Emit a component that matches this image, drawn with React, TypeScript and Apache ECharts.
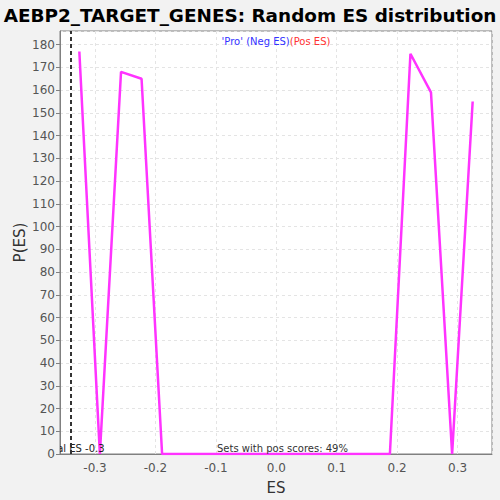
import React, { useEffect, useRef } from "react";
import * as echarts from "echarts";

const titleText = "AEBP2_TARGET_GENES: Random ES distribution";
const esBins = [
  -0.326, -0.292, -0.257, -0.223, -0.189, -0.155, -0.12, -0.086, -0.052, -0.018,
  0.017, 0.051, 0.085, 0.119, 0.154, 0.188, 0.222, 0.256, 0.291, 0.325,
];
const pValues = [177, 0, 168, 165, 0, 0, 0, 0, 0, 0, 0, 0, 0, 0, 0, 0, 176, 159, 0, 155];
const actualES = -0.342;
const actualLabel = "Actual ES -0.3";
const posScoresLabel = "Sets with pos scores: 49%";
const legendNeg = "'Pro' (Neg ES)";
const legendPos = "(Pos ES)";

const FONT = "DejaVu Sans";

export default function App() {
  const ref = useRef<HTMLDivElement>(null);
  useEffect(() => {
    document.body.style.margin = "0";
    const chart = echarts.init(ref.current!, null, { renderer: "svg" });
    const lineData = esBins.map((x, i) => [x, pValues[i]]);
    chart.setOption({
      animation: false,
      backgroundColor: "#f2f2f2",
      title: {
        text: titleText,
        left: "center",
        top: 1,
        textStyle: { fontFamily: FONT, fontWeight: "bold", fontSize: 18.4, color: "#000" },
      },
      grid: {
        left: 60,
        right: 8,
        top: 31,
        bottom: 46,
        show: true,
        containLabel: false,
        outerBoundsMode: "none",
        backgroundColor: "#ffffff",
        borderColor: "#808080",
        borderWidth: 1,
      },
      xAxis: {
        type: "value",
        min: -0.358,
        max: 0.357,
        splitNumber: 5,
        name: "ES",
        nameLocation: "middle",
        nameGap: 26,
        nameMoveOverlap: false,
        nameTextStyle: { fontFamily: FONT, fontSize: 15, color: "#333" },
        axisLine: { onZero: false, lineStyle: { color: "#808080" } },
        axisTick: { show: false },
        axisLabel: {
          fontFamily: FONT,
          fontSize: 12,
          color: "#555",
          margin: 8,
          showMinLabel: false,
          showMaxLabel: false,
          formatter: (v: number) => v.toFixed(1),
        },
        splitLine: { show: true, lineStyle: { color: "#e4e4e4", type: [3, 3] } },
      },
      yAxis: {
        type: "value",
        min: 0,
        max: 186,
        interval: 10,
        name: "P(ES)",
        nameLocation: "middle",
        nameGap: 33,
        nameMoveOverlap: false,
        nameTextStyle: { fontFamily: FONT, fontSize: 15, color: "#333" },
        axisLine: { show: true, onZero: false, lineStyle: { color: "#808080" } },
        axisTick: { show: true, length: 4, lineStyle: { color: "#808080" } },
        axisLabel: {
          fontFamily: FONT,
          fontSize: 12,
          color: "#555",
          margin: 5,
          showMaxLabel: false,
        },
        splitLine: { show: true, lineStyle: { color: "#e4e4e4", type: [3, 3] } },
      },
      series: [
        {
          type: "line",
          data: lineData,
          symbol: "none",
          lineStyle: { color: "#ff33ff", width: 2.5 },
          markLine: {
            silent: true,
            symbol: "none",
            label: { show: false },
            lineStyle: { color: "#333", type: [4, 3], width: 2 },
            data: [{ xAxis: actualES }],
          },
          z: 3,
        },
        {
          type: "custom",
          clip: true,
          data: [[actualES, 0]],
          renderItem: (params: any, api: any) => {
            const p = api.coord([api.value(0), api.value(1)]);
            return {
              type: "text",
              x: p[0],
              y: p[1] - 1,
              style: {
                text: actualLabel,
                textAlign: "center",
                textVerticalAlign: "bottom",
                fontSize: 10,
                fontFamily: FONT,
                fill: "#222",
              },
            };
          },
          z: 4,
        },
      ],
      graphic: [
        {
          type: "text",
          x: 276,
          y: 36,
          style: {
            text: `{a|${legendNeg}}{b|${legendPos}}`,
            textAlign: "center",
            rich: {
              a: { fill: "#3333ff", fontSize: 10, fontFamily: FONT },
              b: { fill: "#ff3333", fontSize: 10, fontFamily: FONT },
            },
          },
          z: 10,
        },
        {
          type: "text",
          x: 217,
          y: 453,
          style: {
            text: posScoresLabel,
            fontSize: 10,
            fontFamily: FONT,
            fill: "#333",
            textVerticalAlign: "bottom",
          },
          z: 10,
        },
      ],
    });
    return () => chart.dispose();
  }, []);
  return <div ref={ref} style={{ width: 500, height: 500 }} />;
}
